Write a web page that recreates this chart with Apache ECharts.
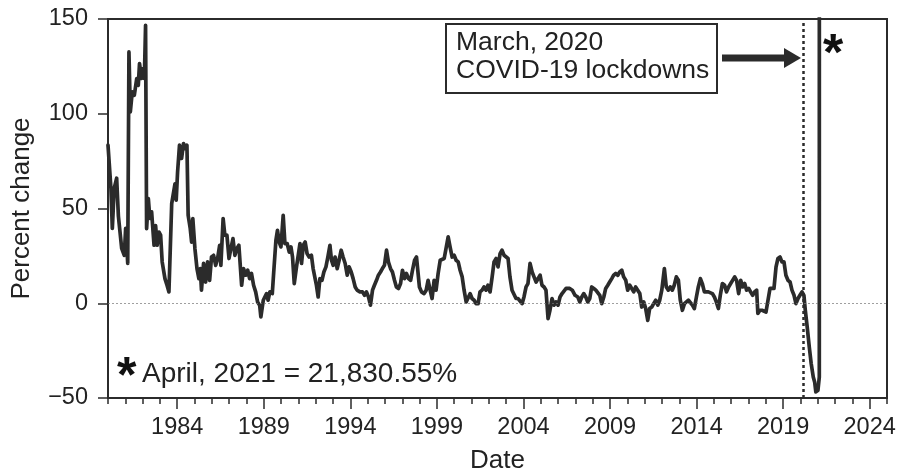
<!DOCTYPE html>
<html>
<head>
<meta charset="utf-8">
<script src="https://cdn.jsdelivr.net/npm/echarts@6/dist/echarts.min.js"></script>
<style>
  html, body { margin: 0; padding: 0; background: #fff; }
  #chart { width: 900px; height: 474px; }
</style>
</head>
<body>
<div id="chart"></div>
<script>
// dates as decimal years, values = percent change
const years = [
  1980.0, 1980.17, 1980.25, 1980.36, 1980.5, 1980.6, 1980.79, 1980.94, 1981.02, 1981.14,
  1981.21, 1981.29, 1981.4, 1981.52, 1981.66, 1981.75, 1981.82, 1981.94, 1982.02, 1982.1,
  1982.17, 1982.23, 1982.33, 1982.42, 1982.52, 1982.66, 1982.75, 1982.84, 1982.94, 1983.04,
  1983.13, 1983.29, 1983.41, 1983.52, 1983.6, 1983.68, 1983.79, 1983.87, 1983.94, 1984.02,
  1984.13, 1984.25, 1984.36, 1984.48, 1984.56, 1984.63, 1984.75, 1984.83, 1984.9, 1985.02,
  1985.14, 1985.25, 1985.33, 1985.4, 1985.52, 1985.64, 1985.75, 1985.87, 1985.98, 1986.1,
  1986.22, 1986.33, 1986.45, 1986.52, 1986.65, 1986.75, 1986.87, 1986.99, 1987.1, 1987.22,
  1987.33, 1987.45, 1987.56, 1987.72, 1987.83, 1987.95, 1988.07, 1988.18, 1988.29, 1988.41,
  1988.53, 1988.64, 1988.76, 1988.83,
  1988.97, 1989.06, 1989.16, 1989.25, 1989.35, 1989.49, 1989.58, 1989.7, 1989.79, 1989.89,
  1989.99, 1990.12, 1990.22, 1990.35, 1990.47, 1990.57, 1990.66, 1990.76, 1990.89, 1990.99,
  1991.09, 1991.18, 1991.28, 1991.39, 1991.5, 1991.62, 1991.75, 1991.85, 1991.95, 1992.04,
  1992.14, 1992.24, 1992.36, 1992.47, 1992.59, 1992.7, 1992.82, 1992.91, 1993.01, 1993.12,
  1993.24, 1993.35, 1993.47, 1993.58, 1993.7, 1993.82, 1993.93, 1994.05, 1994.16, 1994.28,
  1994.39, 1994.55, 1994.7, 1994.82, 1994.93, 1995.05, 1995.16, 1995.28, 1995.39, 1995.51,
  1995.62, 1995.74, 1995.85, 1995.97, 1996.09, 1996.2, 1996.32, 1996.43, 1996.55, 1996.66,
  1996.78, 1996.9, 1997.01, 1997.13, 1997.24, 1997.36, 1997.48, 1997.59, 1997.71, 1997.82,
  1997.99, 1998.11, 1998.26, 1998.38, 1998.49, 1998.61, 1998.72, 1998.84, 1998.95, 1999.07,
  1999.19, 1999.3, 1999.42, 1999.53, 1999.65, 1999.76, 1999.88, 2000.0, 2000.11, 2000.23,
  2000.34, 2000.46, 2000.57, 2000.69, 2000.8, 2000.92, 2001.03, 2001.15, 2001.26, 2001.38,
  2001.49, 2001.61, 2001.72, 2001.84, 2001.95, 2002.07, 2002.19, 2002.3, 2002.42, 2002.53,
  2002.65, 2002.76, 2002.88, 2002.99, 2003.11, 2003.22, 2003.34, 2003.45, 2003.57, 2003.69,
  2003.8, 2003.92, 2004.03, 2004.15, 2004.26, 2004.38, 2004.5, 2004.61, 2004.73, 2004.84,
  2004.96, 2005.07, 2005.19, 2005.3, 2005.42, 2005.53, 2005.65, 2005.77, 2005.88, 2006.0,
  2006.11, 2006.23, 2006.34, 2006.46, 2006.57,
  2006.67, 2006.82, 2006.98, 2007.14, 2007.25, 2007.37, 2007.48, 2007.6, 2007.71, 2007.83,
  2007.94, 2008.06, 2008.18, 2008.29, 2008.41, 2008.52, 2008.64, 2008.75, 2008.87, 2008.98,
  2009.1, 2009.21, 2009.33, 2009.45, 2009.56, 2009.68, 2009.79, 2009.91, 2010.02, 2010.14,
  2010.25, 2010.37, 2010.48, 2010.6, 2010.72, 2010.83, 2010.95, 2011.06, 2011.18, 2011.29,
  2011.41, 2011.52, 2011.64, 2011.76, 2011.87, 2011.99, 2012.14, 2012.25, 2012.37, 2012.48,
  2012.6, 2012.71, 2012.83, 2012.95, 2013.06, 2013.18, 2013.3, 2013.41, 2013.53, 2013.64,
  2013.76, 2013.87, 2013.99, 2014.1, 2014.22, 2014.33, 2014.45, 2014.56, 2014.68, 2014.79,
  2014.91, 2015.03, 2015.14, 2015.26, 2015.37, 2015.49,
  2015.62, 2015.73, 2015.85, 2015.97, 2016.08, 2016.2, 2016.31, 2016.43, 2016.55, 2016.66,
  2016.78, 2016.89, 2017.01, 2017.12, 2017.24, 2017.35, 2017.47, 2017.54, 2017.66, 2017.78,
  2017.89, 2018.01, 2018.12, 2018.24, 2018.35, 2018.47, 2018.59, 2018.7, 2018.82, 2018.93,
  2019.05, 2019.16, 2019.28, 2019.4, 2019.51, 2019.63, 2019.74, 2019.86, 2019.97, 2020.09,
  2020.2, 2020.28, 2020.39, 2020.51, 2020.62, 2020.74, 2020.82, 2020.89, 2021.01, 2021.09,
  2021.25
];

const pct = [
  83.4, 60.5, 39.5, 60.7, 66, 46, 29, 25.3, 39.5, 21,
  132.6, 101, 111.5, 109.8, 118.6, 115, 126.5, 118.6, 123.8, 118.6,
  146.7, 39.4, 55.2, 44.8, 48.2, 30.6, 41, 30.6, 37.6, 35.9,
  21.8, 13, 9.5, 6, 6, 52.6, 53.5, 63, 54.4, 69.3,
  83.4, 76.4, 84.3, 81.6, 83.4, 46.4, 39.4, 32.3, 44.7, 28.9,
  18.3, 13, 18.3, 6.9, 21, 11.2, 21.8, 12.1, 24.4, 25.3,
  20, 23.6, 30.6, 20, 44.7, 35.9, 35.9, 23.6, 28.9, 34.1,
  25.3, 28.9, 30.6, 9.5, 18.3, 14.8, 17.4, 13, 15.7, 9.5,
  6, 0.7, -1, -7.2,
  1.6, 3.3, 5.1, 1.6, 6, 5.1, 17.4, 33.2, 38.5, 32.3,
  29.7, 46.4, 31.5, 31.5, 27, 29.7, 24.4, 10.4, 19.2, 25.3,
  31.5, 21, 30.6, 32.3, 26.2, 24.4, 25.3, 18.3, 19.2, 9.5,
  3.3, 13, 12.1, 16.5, 19.2, 24.4, 30.6, 22.7, 20, 24.4,
  18.3, 22.7, 28, 24.4, 21, 14.8, 19.2, 16.5, 13, 8.6,
  6.9, 6, 6, 4.2, 6, 3.3, -1, 6.9, 9.5, 12.1,
  14.8, 16.5, 18.3, 20, 28, 21.8, 18.3, 16.5, 12.1, 8.6,
  7.8, 10.4, 17.4, 13, 15.7, 13, 12.1, 17.4, 22.7, 24.4,
  8.6, 6, 5.1, 6.9, 12.1, 6.9, 2.5, 12.1, 6.9, 15.7,
  22.7, 21.8, 23.6, 24.4, 35, 29.7, 24.4, 25.3, 22.7, 21.8,
  17.4, 13.9, 6.9, 0.7, 1.6, 5.1, 2.5, 1.6, -0.2, -0.2,
  6, 6.9, 8.6, 6.9, 9.5, 6, 13.9, 21.8, 23.6, 19.2,
  26.2, 28, 25.3, 26.2, 23.6, 13.9, 6.9, 6, 2.5, 2.5,
  1.6, -0.2, 3.3, 8.6, 10.4, 21, 16.5, 13.9, 11.2, 12.1,
  14.8, 9.5, 8.6, 6.9, -8.1, -3.7, 2.5, -1, 0.7, -1,
  3.3, 5.1, 6, 7.8, 8.6,
  7.8, 6.9, 4.2, 3.3, 0.7, 3.3, 5.1, 3.3, 0.7, 2.5,
  8.6, 7.8, 6.9, 6, 4.2, -0.2, 3.3, 7.8, 9.5, 11.2,
  13, 14.8, 15.7, 14.8, 16.5, 17.4, 13.9, 12.1, 6.9, 9.5,
  10.4, 6, 8.6, 6.9, 5.1, -2, 0.7, -2.8, -9, -2.8,
  -2, -0.2, 1.6, -1, 1.6, 6.9, 18.3, 8.6, 6.9, 8.6,
  6.9, 9.5, 13.9, 12.1, 1.6, -3.7, -0.2, -1, 1.6, 0.7,
  -1, -2.8, 3.3, 8.6, 13, 10.4, 6, 6.9, 6, 6.9,
  5.1, 3.3, 0.7, -2.8, 4.2, 10.4,
  9.5, 6, 8.6, 10.4, 12.1, 13.9, 12.1, 5.1, 12.1, 8.6,
  10.4, 6.9, 7.8, 6, 4.2, 6, 6.9, -5.4, -3.7, -3.7,
  -3.7, -4.6, -5.4, 7.8, 6.9, 7.8, 19.2, 23.6, 24.4, 21.8,
  21.8, 14.8, 12.1, 11.2, 6.9, 4.2, -0.2, 2.5, 4.2, 6,
  4.2, -3.7, -12.5, -23, -31.8, -38.9, -41.5, -46.8, -45.9, -38.9,
  21830.55
];

const minorTickYears = [];
for (let y = 1980; y <= 2025; y++) minorTickYears.push(y);
const majorTickYears = [1984, 1989, 1994, 1999, 2004, 2009, 2014, 2019, 2024];
const lockdownDate = 2020 + 2 / 12;  // March 2020

const INK = '#2b2b2b';
const FONT = '"Liberation Sans", Arial, sans-serif';

const chart = echarts.init(document.getElementById('chart'), null, { renderer: 'canvas' });

const option = {
  backgroundColor: '#fff',
  animation: false,
  grid: {
    left: 108, right: 13, top: 19, bottom: 76,
    outerBoundsMode: 'none',
    show: true, borderColor: INK, borderWidth: 2, backgroundColor: 'transparent'
  },
  xAxis: [
    {
      type: 'value', min: 1980, max: 2025,
      axisLine: { show: true, onZero: false, lineStyle: { color: INK, width: 2 } },
      axisTick: { show: true, customValues: minorTickYears, length: 6, lineStyle: { color: INK, width: 1.5 } },
      axisLabel: { show: false },
      splitLine: { show: false }
    },
    {
      type: 'value', min: 1980, max: 2025, position: 'bottom',
      axisLine: { show: false, onZero: false },
      axisTick: { show: true, customValues: majorTickYears, length: 11, lineStyle: { color: INK, width: 1.5 } },
      axisLabel: {
        show: true, customValues: majorTickYears, margin: 18,
        fontFamily: FONT, fontSize: 23.5, color: '#222',
        formatter: v => String(v)
      },
      splitLine: { show: false },
      name: 'Date', nameLocation: 'middle', nameGap: 50,
      nameTextStyle: { fontFamily: FONT, fontSize: 26, color: '#222' }
    }
  ],
  yAxis: {
    type: 'value', min: -50, max: 150, interval: 50,
    axisLine: { show: true, onZero: false, lineStyle: { color: INK, width: 2 } },
    axisTick: { show: true, length: 10, lineStyle: { color: INK, width: 1.5 } },
    axisLabel: {
      fontFamily: FONT, fontSize: 23.5, color: '#222', margin: 20,
      formatter: v => String(v).replace('-', '\u2212')
    },
    splitLine: { show: false },
    name: 'Percent change', nameLocation: 'middle', nameGap: 73,
    nameTextStyle: { fontFamily: FONT, fontSize: 26, color: '#222' }
  },
  series: [{
    type: 'line',
    xAxisIndex: 0,
    data: years.map((y, i) => [y, pct[i]]),
    showSymbol: false,
    symbol: 'none',
    clip: true,
    lineStyle: { color: INK, width: 3.7, join: 'round', cap: 'round' },
    markLine: {
      silent: true, symbol: 'none', label: { show: false },
      data: [
        { yAxis: 0, lineStyle: { type: [2, 2], color: '#777', width: 0.7 } },
        { xAxis: lockdownDate, lineStyle: { type: [3, 3], color: INK, width: 2.5 } }
      ]
    },
    z: 3
  }],
  graphic: [
    { type: 'rect', shape: { x: 446, y: 24, width: 271, height: 69 },
      style: { fill: '#fff', stroke: INK, lineWidth: 2 }, z: 100 },
    { type: 'text', x: 456, y: 29, z: 101,
      style: { text: 'March, 2020\nCOVID-19 lockdowns', font: '26.5px ' + FONT, fill: '#222', lineHeight: 28 } },
    { type: 'line', shape: { x1: 722, y1: 58, x2: 786, y2: 58 },
      style: { stroke: INK, lineWidth: 7 }, z: 100 },
    { type: 'polygon', shape: { points: [[784, 48], [801, 58], [784, 68]] },
      style: { fill: INK }, z: 100 },
    { type: 'text', x: 823, y: 30, z: 101,
      style: { text: '*', font: 'bold 52px ' + FONT, fill: '#111' } },
    { type: 'text', x: 117, y: 353, z: 101,
      style: { text: '*', font: 'bold 50px ' + FONT, fill: '#111' } },
    { type: 'text', x: 142, y: 360, z: 101,
      style: { text: 'April, 2021 = 21,830.55%', font: '28px ' + FONT, fill: '#222' } }
  ]
};

chart.setOption(option);
</script>
</body>
</html>
